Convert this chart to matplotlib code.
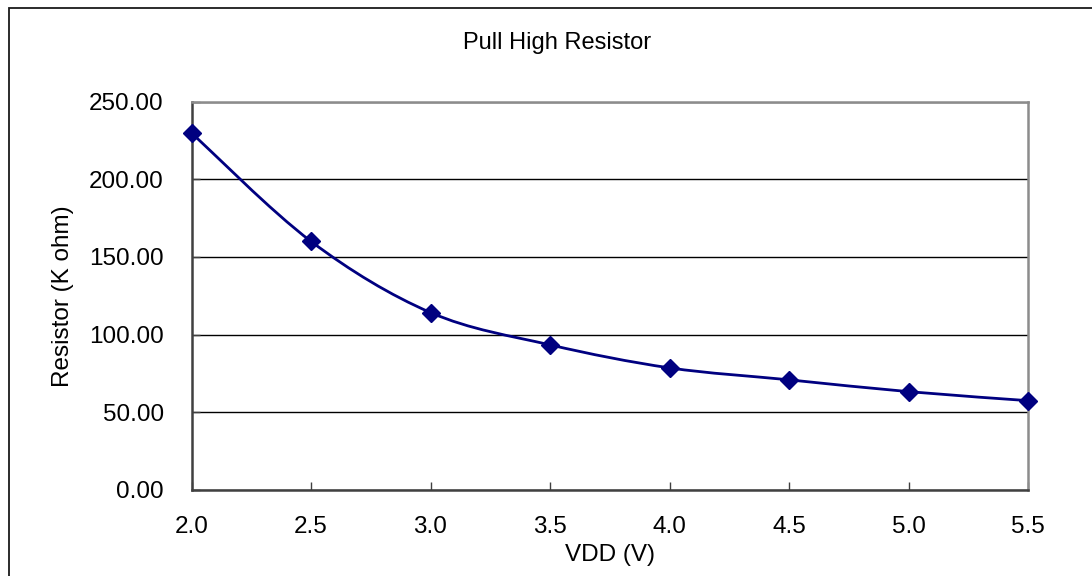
import numpy as np
import matplotlib
matplotlib.use("Agg")
import matplotlib.pyplot as plt
from matplotlib.path import Path
from matplotlib.patches import PathPatch, Rectangle

plt.rcParams['font.family'] = ['Liberation Sans', 'DejaVu Sans']

# data
vdd = [2.0, 2.5, 3.0, 3.5, 4.0, 4.5, 5.0, 5.5]
resistor_kohm = [229.8, 160.0, 114.2, 93.4, 78.6, 70.9, 63.3, 57.5]
x_ticks = [2.0, 2.5, 3.0, 3.5, 4.0, 4.5, 5.0, 5.5]
y_ticks = [0, 50, 100, 150, 200, 250]

W, H = 1092, 576
fig = plt.figure(figsize=(W / 100, H / 100), dpi=100)
ax = fig.add_axes([191.5 / W, 1 - 490 / H, (1028 - 191.5) / W, (490 - 101.5) / H])

# outer chart border (left/top visible, rest runs off the image)
fig.add_artist(Rectangle((9 / W, -0.1), 1.2, 1.1 - 8 / H, transform=fig.transFigure,
                         fill=False, ec='#1a1a1a', lw=1.3))

# smoothed line like Excel: bezier through points
xs = np.array(vdd)
ys = np.array(resistor_kohm)
n = len(xs)
verts = [(xs[0], ys[0])]
codes = [Path.MOVETO]
for i in range(n - 1):
    p0 = (xs[max(i - 1, 0)], ys[max(i - 1, 0)])
    p1 = (xs[i], ys[i])
    p2 = (xs[i + 1], ys[i + 1])
    p3 = (xs[min(i + 2, n - 1)], ys[min(i + 2, n - 1)])
    c1 = (p1[0] + (p2[0] - p0[0]) / 6, p1[1] + (p2[1] - p0[1]) / 6)
    c2 = (p2[0] - (p3[0] - p1[0]) / 6, p2[1] - (p3[1] - p1[1]) / 6)
    verts += [c1, c2, p2]
    codes += [Path.CURVE4] * 3
ax.add_patch(PathPatch(Path(verts, codes), fill=False, ec='#000080', lw=2.0, zorder=3))
ax.plot(vdd, resistor_kohm, ls='none', marker='D', ms=9.5, color='#000080', zorder=4,
        clip_on=False)

ax.set_xlim(2.0, 5.5)
ax.set_ylim(0, 250)
ax.set_xticks(x_ticks)
ax.set_xticklabels([f"{v:.1f}" for v in x_ticks])
ax.set_yticks(y_ticks)
ax.set_yticklabels([f"{v:.2f}" for v in y_ticks])
ax.yaxis.grid(True, color='black', lw=1.0)
ax.set_axisbelow(True)

for side in ['left', 'bottom']:
    ax.spines[side].set_color('#404040')
    ax.spines[side].set_linewidth(1.8)
for side in ['top', 'right']:
    ax.spines[side].set_color('#8c8c8c')
    ax.spines[side].set_linewidth(1.8)

ax.tick_params(axis='both', direction='in', length=6, width=1, color='#404040',
               labelsize=17.5)
ax.tick_params(axis='x', pad=19)
ax.tick_params(axis='y', pad=20)

ax.set_xlabel('VDD (V)', fontsize=17.5, labelpad=4)
ax.set_ylabel('Resistor (K ohm)', fontsize=17.5, labelpad=11)
fig.text(557 / W, 1 - 43 / H, 'Pull High Resistor', fontsize=17, ha='center', va='center')

fig.savefig('out.png', dpi=100)
